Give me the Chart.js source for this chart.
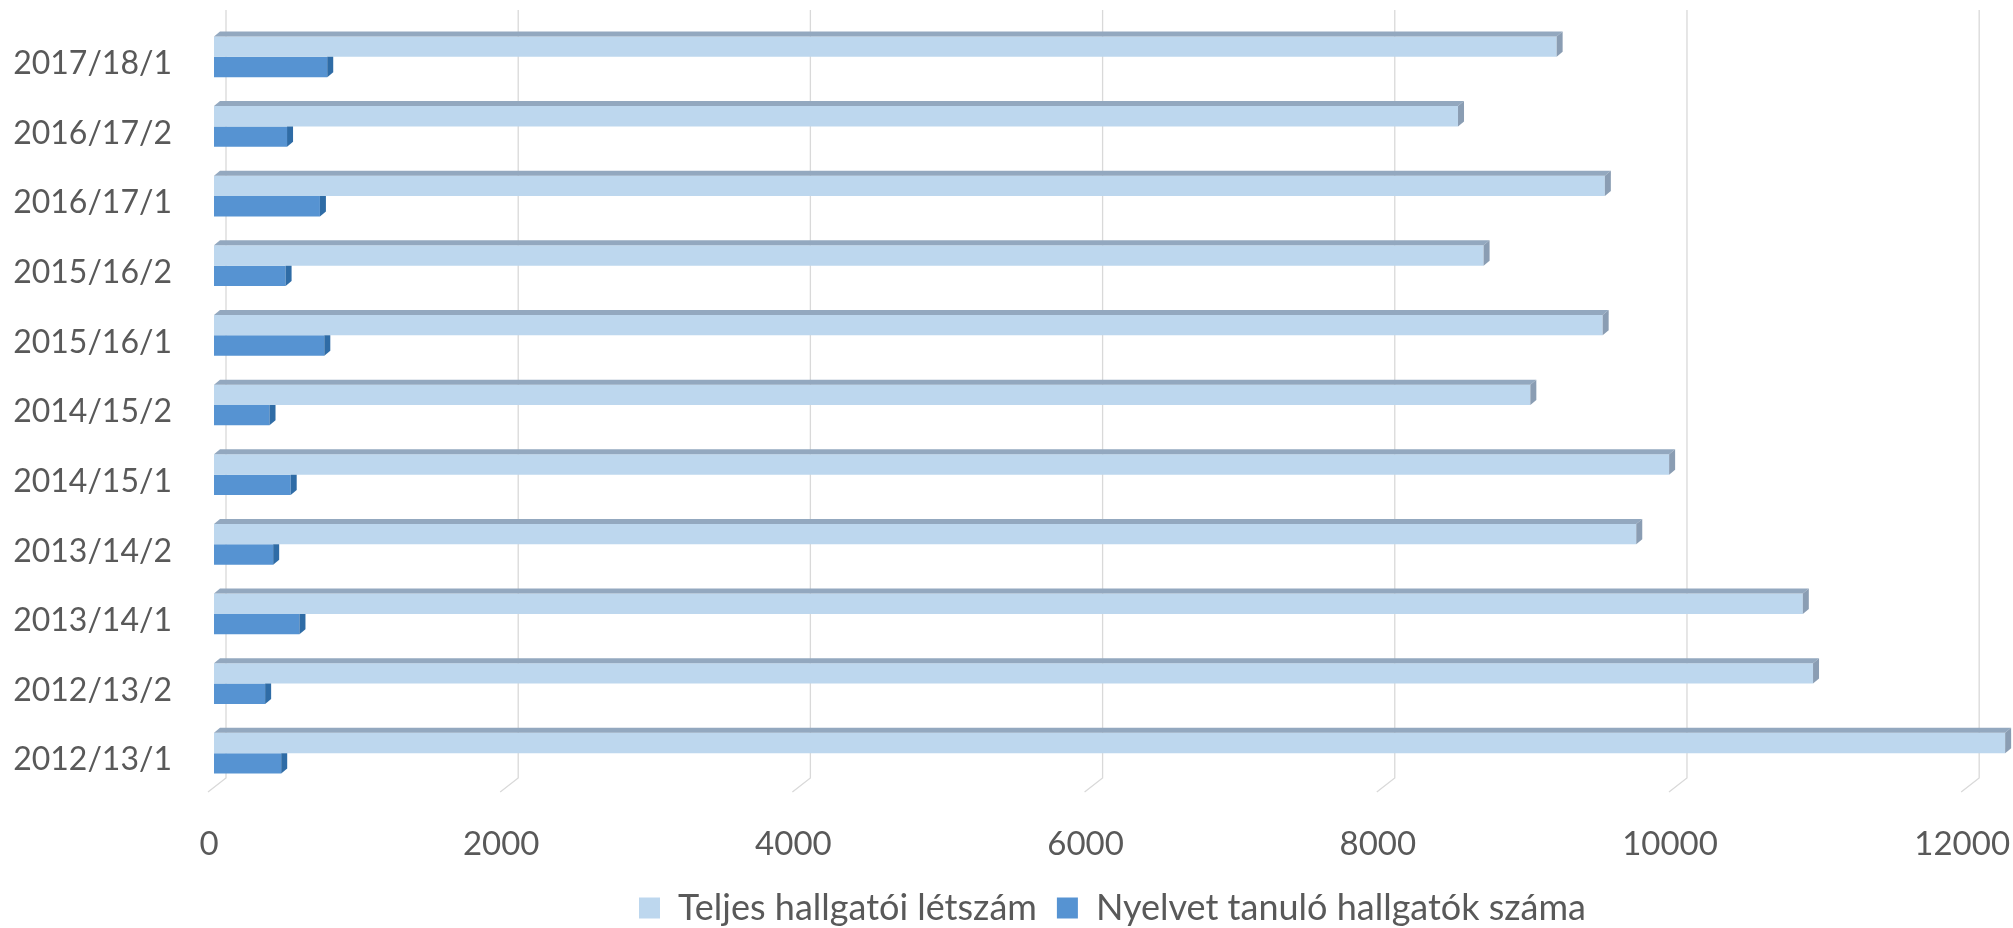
<!DOCTYPE html>
<html>
<head>
<meta charset="utf-8">
<script src="https://cdn.jsdelivr.net/npm/chart.js@4.4.1/dist/chart.umd.min.js"></script>
<style>
  html, body { margin: 0; padding: 0; background: #fff; }
  #wrap { width: 2013px; height: 928px; position: relative; }
</style>
</head>
<body>
<div id="wrap"><canvas id="chart"></canvas></div>
<script>
// Semesters, top to bottom as in the picture
const semesters = [
    "2017/18/1", "2016/17/2", "2016/17/1", "2015/16/2", "2015/16/1", "2014/15/2",
    "2014/15/1", "2013/14/2", "2013/14/1", "2012/13/2", "2012/13/1"
];

// Teljes hallgatói létszám
const totalStudents = [9190, 8515, 9520, 8690, 9505, 9010, 9960, 9735, 10875, 10945, 12260];

// Nyelvet tanuló hallgatók száma
const languageStudents = [775, 500, 725, 490, 755, 380, 525, 405, 585, 350, 460];

const xTicks = [0, 2000, 4000, 6000, 8000, 10000, 12000];

const textColor = "#595959";
const fontFamily = "Lato, 'Open Sans', sans-serif";

// depth of the fake 3D look
const DX = 6, DY = 5;
// back wall offset (gridlines)
const WX = 12, WY = 10;

function poly(ctx, pts, color) {
    ctx.beginPath();
    ctx.moveTo(pts[0][0], pts[0][1]);
    for (let i = 1; i < pts.length; i++) ctx.lineTo(pts[i][0], pts[i][1]);
    ctx.closePath();
    ctx.fillStyle = color;
    ctx.fill();
}

// gridlines on the back wall + little floor lines
const backWall = {
    id: "backWall",
    beforeDatasetsDraw(chart) {
        const ctx = chart.ctx;
        const area = chart.chartArea;
        const x = chart.scales.x;
        ctx.save();
        ctx.strokeStyle = "#d9d9d9";
        ctx.lineWidth = 1.3;
        xTicks.forEach(v => {
            const px = x.getPixelForValue(v);
            ctx.beginPath();
            ctx.moveTo(px + WX, area.top - WY - 2);
            ctx.lineTo(px + WX, area.bottom - WY);
            ctx.lineTo(px - 6, area.bottom + 4);
            ctx.stroke();
        });
        ctx.restore();
    }
};

// top and side faces of the bars
const barFaces = {
    id: "barFaces",
    afterDatasetsDraw(chart) {
        const ctx = chart.ctx;
        ctx.save();
        chart.getDatasetMeta(0).data.forEach(bar => {
            const top = bar.y - bar.height / 2;
            const bot = bar.y + bar.height / 2;
            poly(ctx, [[bar.base, top], [bar.base + DX, top - DY], [bar.x + DX, top - DY], [bar.x, top]], "#93a8bf");
            poly(ctx, [[bar.x, top], [bar.x + DX, top - DY], [bar.x + DX, bot - DY], [bar.x, bot]], "#8a9db3");
        });
        chart.getDatasetMeta(1).data.forEach(bar => {
            const top = bar.y - bar.height / 2;
            const bot = bar.y + bar.height / 2;
            poly(ctx, [[bar.x, top], [bar.x + DX, top], [bar.x + DX, bot - DY], [bar.x, bot]], "#2f6ca6");
        });
        ctx.restore();
    }
};

new Chart(document.getElementById("chart"), {
    type: "bar",
    data: {
        labels: semesters,
        datasets: [
            {
                label: "Teljes hallgatói létszám",
                data: totalStudents,
                backgroundColor: "#bdd7ee",
                categoryPercentage: 0.585,
                barPercentage: 1.0
            },
            {
                label: "Nyelvet tanuló hallgatók száma",
                data: languageStudents,
                backgroundColor: "#5693d2",
                categoryPercentage: 0.585,
                barPercentage: 1.0
            }
        ]
    },
    options: {
        indexAxis: "y",
        responsive: true,
        maintainAspectRatio: false,
        animation: false,
        layout: { padding: { top: 22, right: 2, left: 0, bottom: -8 } },
        plugins: {
            tooltip: { enabled: false },
            legend: {
                position: "bottom",
                fullSize: false,
                labels: {
                    color: textColor,
                    font: { family: fontFamily, size: 36 },
                    boxWidth: 21,
                    boxHeight: 21,
                    padding: 20
                }
            }
        },
        scales: {
            x: {
                min: 0,
                max: 12300,
                afterBuildTicks(scale) {
                    scale.ticks = xTicks.map(v => ({ value: v }));
                },
                afterFit(scale) {
                    scale.height = 82;
                    scale.paddingLeft = 0;
                    scale.paddingRight = 0;
                },
                grid: { display: false, drawTicks: false },
                border: { display: false },
                ticks: {
                    color: textColor,
                    font: { family: fontFamily, size: 33 },
                    padding: 37,
                    labelOffset: -5,
                    maxRotation: 0,
                    autoSkip: false,
                    callback: v => String(v)
                }
            },
            y: {
                afterFit(scale) {
                    scale.width = 214;
                    scale.paddingTop = 0;
                    scale.paddingBottom = 0;
                },
                grid: { display: false, drawTicks: false },
                border: { display: false },
                ticks: {
                    color: textColor,
                    font: { family: fontFamily, size: 32 },
                    padding: 42,
                    labelOffset: 7
                }
            }
        }
    },
    plugins: [backWall, barFaces]
});
</script>
</body>
</html>
